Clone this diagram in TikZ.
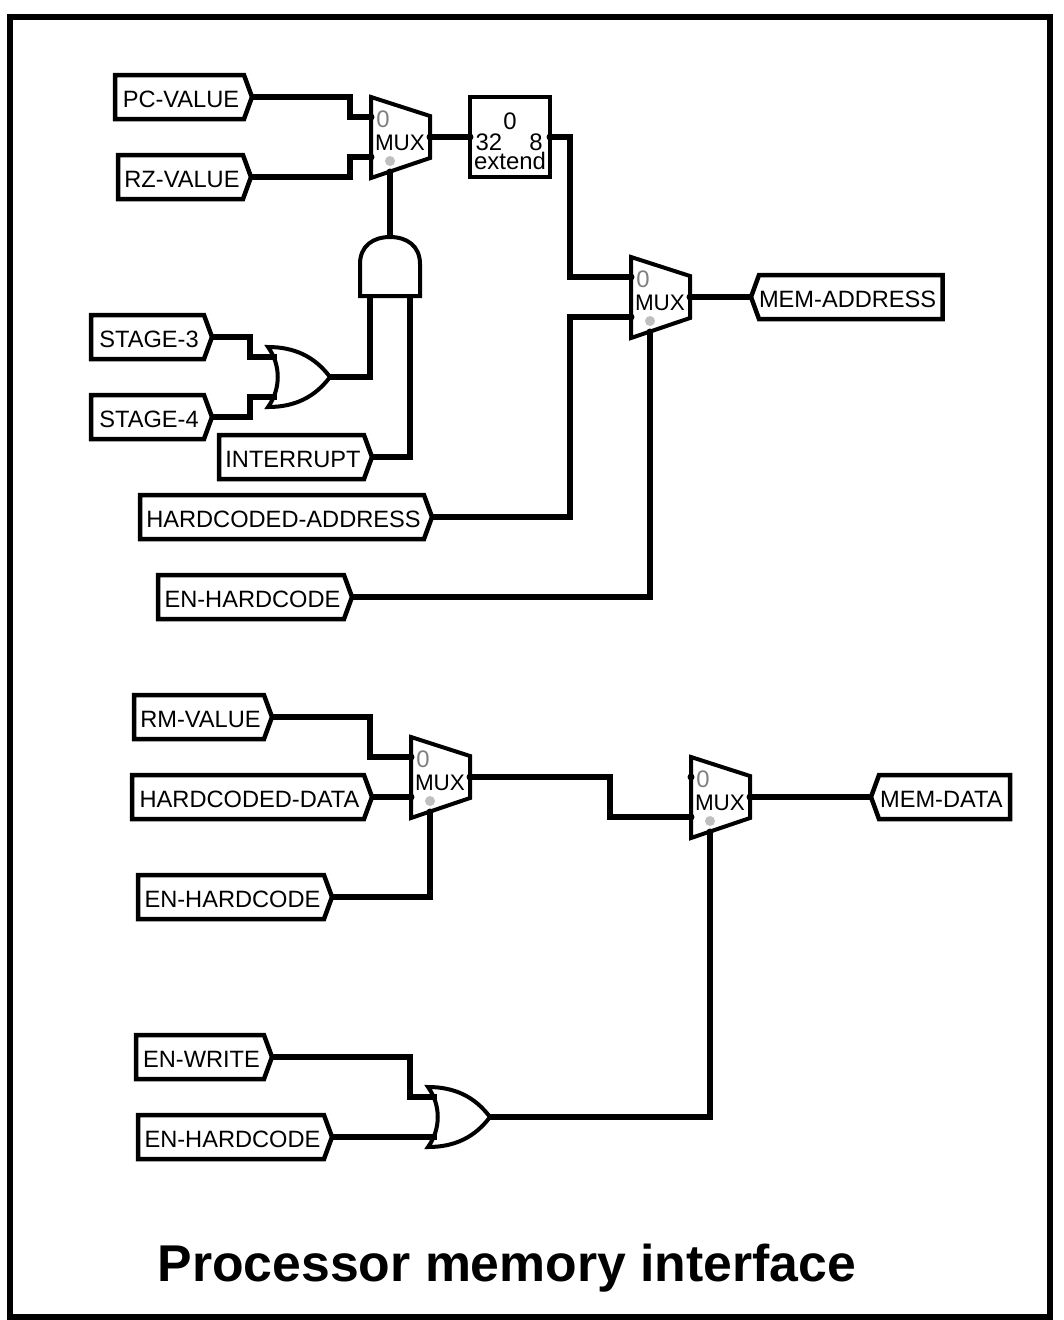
\documentclass[tikz,border=0pt]{standalone}
\usepackage{fontspec}
\setmainfont{Liberation Sans}
\usetikzlibrary{shapes.symbols}

\tikzset{
  pindot/.style={fill=black, circle, inner sep=0pt, minimum size=7*0.02cm},
  wire/.style={line width=0.11cm},
  taglabel/.style={draw, line width=0.09cm, fill=white, shape=signal, signal from=nowhere, signal pointer angle=140, minimum height=44*0.02cm, inner sep=0pt, outer sep=0pt, text height=11.4pt, text depth=0pt, font=\fontsize{13.45}{14}\selectfont},
  tagw/.style={signal to=east, anchor=east, minimum width=#1*0.02cm, execute at begin node=\kern1.7pt},
  tage/.style={signal to=west, anchor=west, minimum width=#1*0.02cm, execute at end node=\kern3.6pt},
  extlabel/.style={font=\fontsize{13.6}{14}\selectfont, inner sep=0pt},
  muxcell/.pic={
    \draw[line width=0.08cm, fill=white] (-29,-40) -- (30,-21) -- (30,21) -- (-29,41) -- cycle;
    \node[text=gray, font=\fontsize{13.6}{14}\selectfont, inner sep=0pt] (-zero) at (-17,-18) {0};
    \node[font=\fontsize{12.8}{14}\selectfont, inner sep=0pt] (-name) at (0,6) {MUX};
    \fill[black!25] (-10,24) circle (5);
    \node[pindot] (-in0) at (-29,-20) {};
    \node[pindot] (-in1) at (-29,20) {};
    \node[pindot] (-out) at (30,0) {};
    \node[pindot] (-sel) at (-10,35) {};
  },
  orcell/.pic={
    \draw[line width=0.08cm, fill=white, line join=miter] (-32,-30) .. controls (-5,-30) and (15,-20) .. (30,0)
      .. controls (15,20) and (-5,30) .. (-32,30) .. controls (-19,12) and (-19,-12) .. (-32,-30) -- cycle;
    \coordinate (-in0) at (-23,-20);
    \coordinate (-in1) at (-23,20);
    \coordinate (-out) at (30,0);
  },
  andcell/.pic={
    \draw[line width=0.08cm, fill=white] (-30,29) -- (-30,-3) .. controls (-30,-21) and (-17,-30) .. (0,-30)
      .. controls (17,-30) and (30,-21) .. (30,-3) -- (30,29) -- cycle;
    \coordinate (-in0) at (-20,29);
    \coordinate (-in1) at (20,29);
    \coordinate (-out) at (0,-30);
  },
}

\begin{document}
\begin{tikzpicture}[x=0.02cm, y=-0.02cm]
\useasboundingbox (0,0) rectangle (1063,1320);
\node[draw, line width=0.12cm, minimum width=1040*0.02cm, minimum height=1300*0.02cm, inner sep=0pt, outer sep=0pt] (frame) at (530,667) {};

\pic (muxpc) at (400,137) {muxcell};
\pic (muxaddr) at (660,297) {muxcell};
\pic (muxrm) at (440,777) {muxcell};
\pic (muxdata) at (720,797) {muxcell};
\pic (orstage) at (300,377) {orcell};
\pic (orwrite) at (460,1117) {orcell};
\pic (andint) at (390,267) {andcell};

\node[draw, line width=0.08cm, minimum width=80*0.02cm, minimum height=80*0.02cm, inner sep=0pt, outer sep=0pt] (extend) at (510,137) {};
\node[extlabel] (extzero) at (510,121) {0};
\node[extlabel] (extin) at (489,142) {32};
\node[extlabel] (extout) at (536,142) {8};
\node[extlabel] (extname) at (510,161) {extend};
\node[pindot] (extw) at (extend.west) {};
\node[pindot] (exte) at (extend.east) {};

\node[taglabel, tagw=137] (pcvalue) at (252,97) {PC-VALUE};
\node[taglabel, tagw=133] (rzvalue) at (251,177) {RZ-VALUE};
\node[taglabel, tagw=121] (stagea) at (212,337) {STAGE-3};
\node[taglabel, tagw=121] (stageb) at (212,417) {STAGE-4};
\node[taglabel, tagw=153] (interrupt) at (372,457) {INTERRUPT};
\node[taglabel, tagw=292] (hardaddr) at (432,517) {HARDCODED-ADDRESS};
\node[taglabel, tagw=194] (enharda) at (352,597) {EN-HARDCODE};
\node[taglabel, tagw=138] (rmvalue) at (272,717) {RM-VALUE};
\node[taglabel, tagw=240] (harddata) at (372,797) {HARDCODED-DATA};
\node[taglabel, tagw=194] (enhardb) at (332,897) {EN-HARDCODE};
\node[taglabel, tagw=136] (enwrite) at (272,1057) {EN-WRITE};
\node[taglabel, tagw=194] (enhardc) at (332,1137) {EN-HARDCODE};
\node[taglabel, tage=191] (memaddr) at (751,297) {MEM-ADDRESS};
\node[taglabel, tage=139] (memdata) at (871,797) {MEM-DATA};

\draw[wire] (pcvalue.east) -- ++(98,0) |- (muxpc-in0.center);
\draw[wire] (rzvalue.east) -- ++(99,0) |- (muxpc-in1.center);
\draw[wire] (muxpc-out.center) -- (extw.center);
\draw[wire] (exte.center) -- ++(20,0) |- (muxaddr-in0.center);
\draw[wire] (hardaddr.east) -- ++(138,0) |- (muxaddr-in1.center);
\draw[wire] (enharda.east) -| (muxaddr-sel.center);
\draw[wire] (muxaddr-out.center) -- (memaddr.west);
\draw[wire] (andint-out) -- (muxpc-sel.center);
\draw[wire] (stagea.east) -- ++(38,0) |- (orstage-in0);
\draw[wire] (stageb.east) -- ++(38,0) |- (orstage-in1);
\draw[wire] (orstage-out) -| (andint-in0);
\draw[wire] (interrupt.east) -| (andint-in1);
\draw[wire] (rmvalue.east) -- ++(98,0) |- (muxrm-in0.center);
\draw[wire] (harddata.east) -- (muxrm-in1.center);
\draw[wire] (enhardb.east) -| (muxrm-sel.center);
\draw[wire] (muxrm-out.center) -- ++(140,0) |- (muxdata-in1.center);
\draw[wire] (muxdata-out.center) -- (memdata.west);
\draw[wire] (enwrite.east) -- ++(138,0) |- (orwrite-in0);
\draw[wire] (enhardc.east) -- (orwrite-in1);
\draw[wire] (orwrite-out) -| (muxdata-sel.center);

\node[font=\fontsize{29.44}{31}\selectfont\bfseries, inner sep=0pt] (title) at (507,1268) {Processor memory interface};
\end{tikzpicture}
\end{document}
